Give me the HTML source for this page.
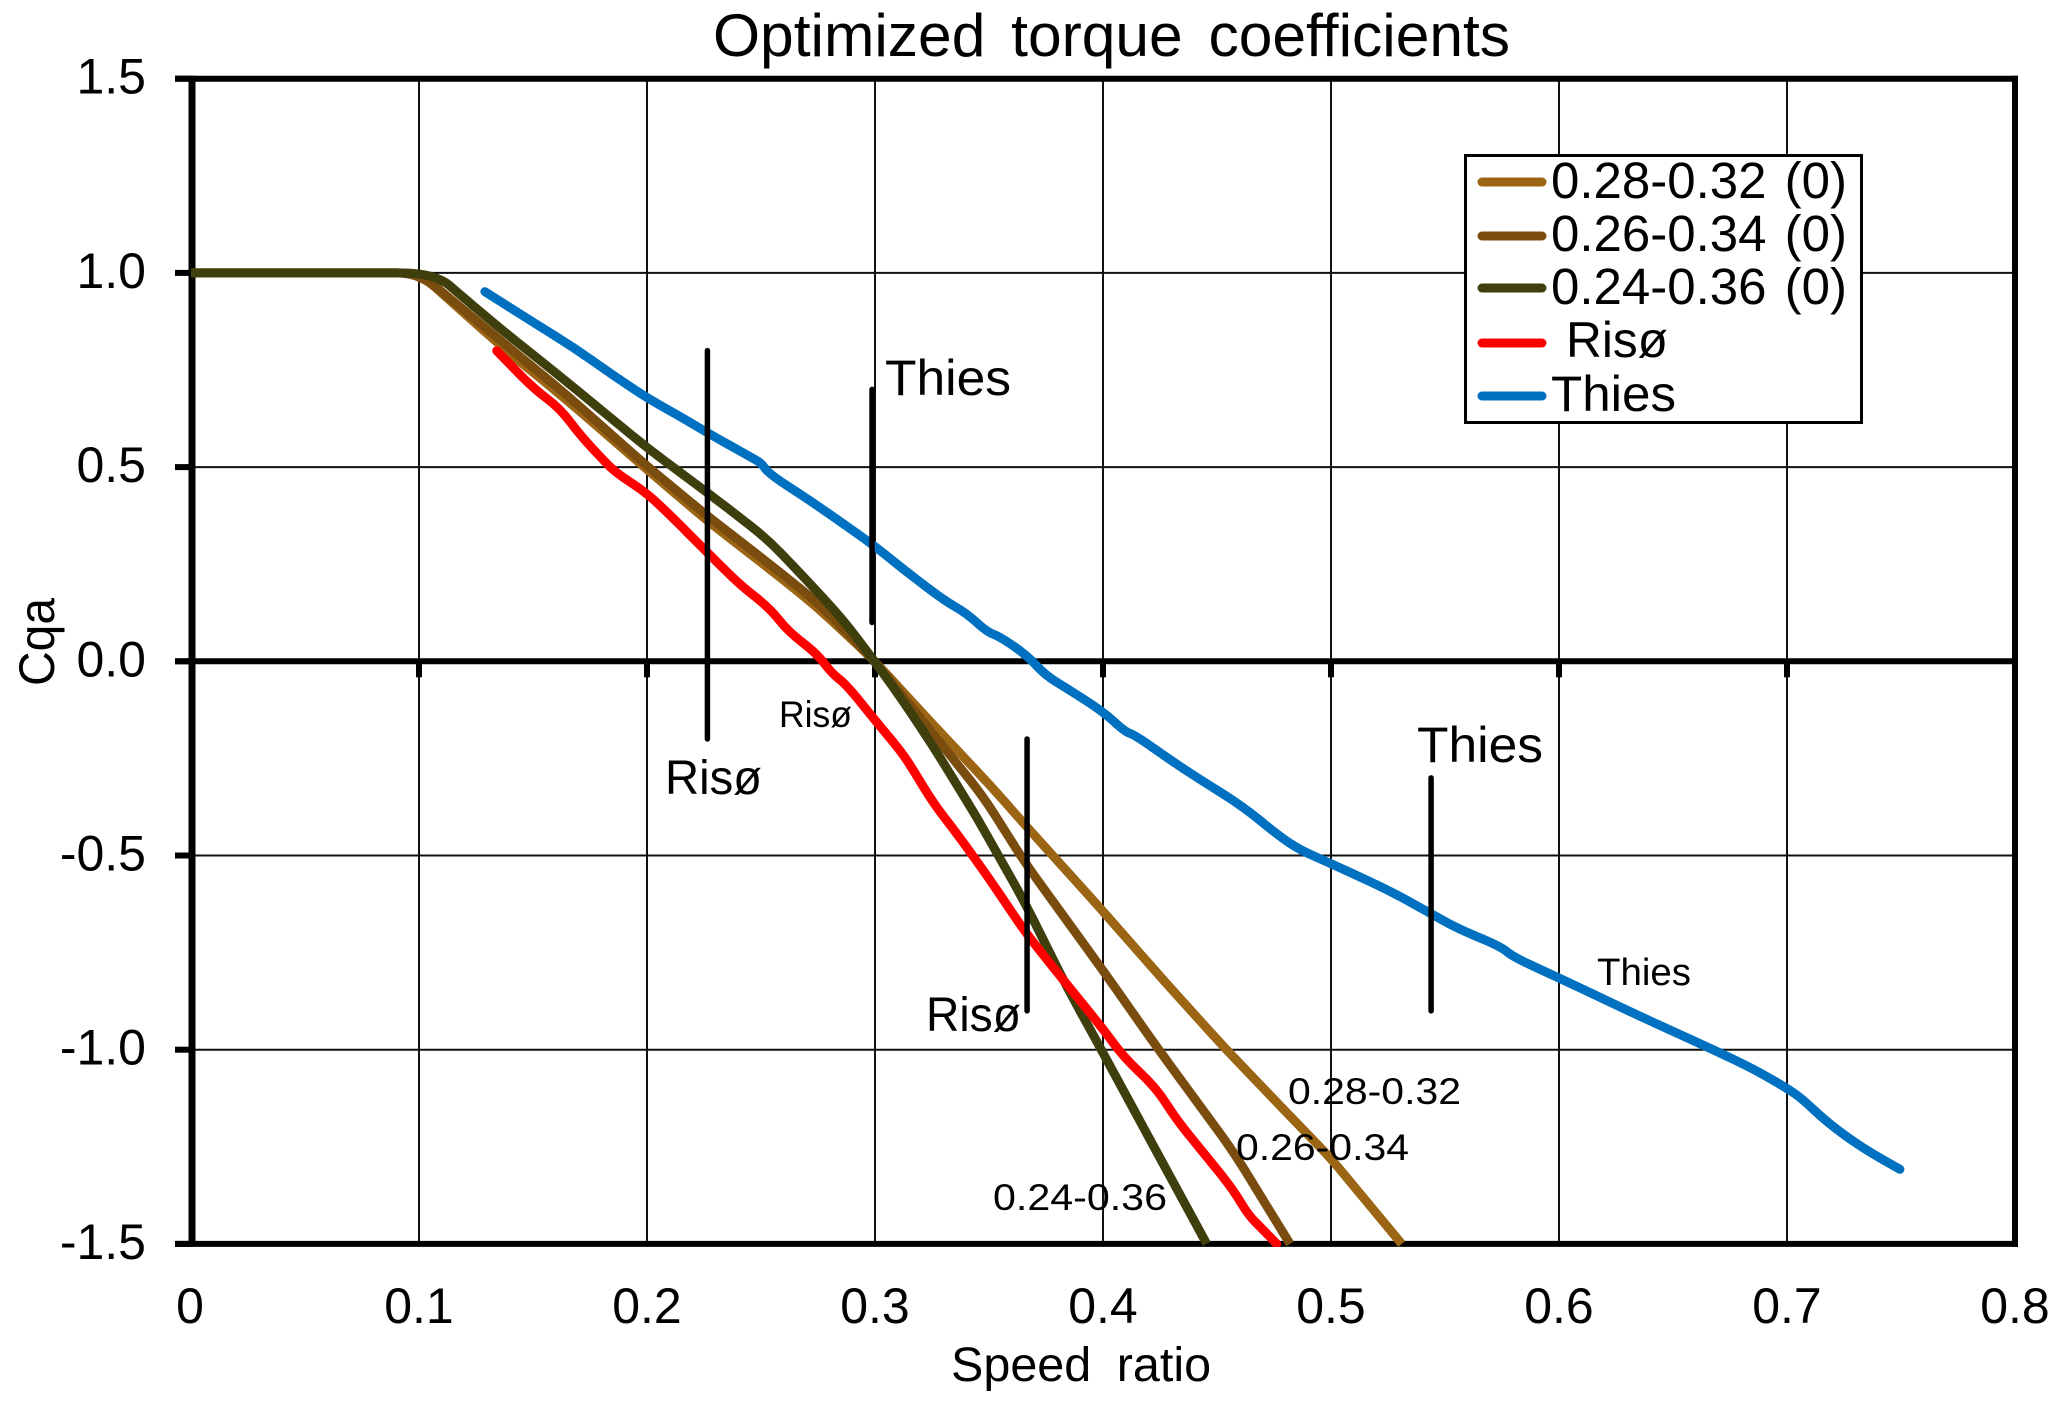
<!DOCTYPE html>
<html lang="en">
<head>
<meta charset="utf-8">
<title>Optimized torque coefficients</title>
<style>
html,body{margin:0;padding:0;background:#fff;}
svg{display:block;}
text{font-family:"Liberation Sans",sans-serif;fill:#000;white-space:pre;}
</style>
</head>
<body>
<svg id="chart" xmlns="http://www.w3.org/2000/svg" width="2067" height="1405" viewBox="0 0 2067 1405">
  <rect x="0" y="0" width="2067" height="1405" fill="#ffffff"/>
  <defs>
    <clipPath id="plot-clip"><rect x="188" y="70" width="1830" height="1177"/></clipPath>
  </defs>
  <g id="grid"></g>
  <g id="axes"></g>
  <g id="series" clip-path="url(#plot-clip)"></g>
  <g id="markers"></g>
  <g id="tick-labels"></g>

  <text x="713" y="56" font-size="60.5" word-spacing="9">Optimized torque coefficients</text>
  <text x="951" y="1381" font-size="48.5" word-spacing="12">Speed ratio</text>
  <text transform="translate(54,686) rotate(-90)" font-size="50" textLength="88" lengthAdjust="spacingAndGlyphs">Cqa</text>

  <text x="665" y="794" font-size="48" textLength="97" lengthAdjust="spacingAndGlyphs">Risø</text>
  <text x="779" y="727" font-size="37" textLength="73" lengthAdjust="spacingAndGlyphs">Risø</text>
  <text x="926" y="1031" font-size="48" textLength="95" lengthAdjust="spacingAndGlyphs">Risø</text>
  <text x="885" y="395" font-size="50" textLength="126" lengthAdjust="spacingAndGlyphs">Thies</text>
  <text x="1417" y="762" font-size="50" textLength="126" lengthAdjust="spacingAndGlyphs">Thies</text>
  <text x="1597" y="985" font-size="38" textLength="94" lengthAdjust="spacingAndGlyphs">Thies</text>
  <text x="1288" y="1104" font-size="37" textLength="173" lengthAdjust="spacingAndGlyphs">0.28-0.32</text>
  <text x="1236" y="1160" font-size="37" textLength="173" lengthAdjust="spacingAndGlyphs">0.26-0.34</text>
  <text x="993" y="1210" font-size="37" textLength="174" lengthAdjust="spacingAndGlyphs">0.24-0.36</text>

  <g>
    <rect x="1465.5" y="155.5" width="396" height="267" fill="#ffffff" stroke="#000000" stroke-width="3"/>
    <g>
      <line x1="1482" y1="182" x2="1542" y2="182" stroke="#9c6514" stroke-width="9" stroke-linecap="round"/>
      <text x="1551" y="198" font-size="51" word-spacing="4">0.28-0.32 (0)</text>
    </g>
    <g>
      <line x1="1482" y1="236" x2="1542" y2="236" stroke="#7a4d0f" stroke-width="9" stroke-linecap="round"/>
      <text x="1551" y="251" font-size="51" word-spacing="4">0.26-0.34 (0)</text>
    </g>
    <g>
      <line x1="1482" y1="288" x2="1542" y2="288" stroke="#3f3f0e" stroke-width="9" stroke-linecap="round"/>
      <text x="1551" y="304" font-size="51" word-spacing="4">0.24-0.36 (0)</text>
    </g>
    <g>
      <line x1="1482" y1="343" x2="1542" y2="343" stroke="#ff0000" stroke-width="9" stroke-linecap="round"/>
      <text x="1566" y="357" font-size="50" textLength="102" lengthAdjust="spacingAndGlyphs">Risø</text>
    </g>
    <g>
      <line x1="1482" y1="396" x2="1542" y2="396" stroke="#0070c0" stroke-width="9" stroke-linecap="round"/>
      <text x="1551" y="411" font-size="50" textLength="125" lengthAdjust="spacingAndGlyphs">Thies</text>
    </g>
  </g>
</svg>
<script>
const xTickLabels = ["0","0.1","0.2","0.3","0.4","0.5","0.6","0.7","0.8"];
const yTickLabels = ["1.5","1.0","0.5","0.0","-0.5","-1.0","-1.5"];

const band28X = [0,0.1,0.1355,0.1648,0.2003,0.2269,0.2525,0.2744,0.2992,0.3256,0.3504,0.3665,0.3987,0.4264,0.4542,0.4893,0.4999,0.531];
const band28Y = [1,1,0.8144,0.6728,0.4925,0.3594,0.2436,0.1406,0.0046,-0.164,-0.3185,-0.4258,-0.635,-0.8205,-1.0007,-1.2153,-1.2796,-1.5];

const band26X = [0,0.1,0.1355,0.1648,0.2003,0.2269,0.2525,0.2744,0.2992,0.33,0.3475,0.3665,0.3768,0.4001,0.4235,0.4572,0.482];
const band26Y = [1,1,0.8272,0.6857,0.501,0.3723,0.2564,0.1534,0.0046,-0.2199,-0.3486,-0.525,-0.608,-0.7970,-0.9923,-1.2626,-1.5];

const band24X = [0,0.1,0.1107,0.1165,0.1355,0.1648,0.2003,0.2269,0.2525,0.27,0.2861,0.2992,0.311,0.3256,0.3445,0.3651,0.3841,0.4001,0.4279,0.4455];
const band24Y = [1,1,0.9817,0.9516,0.8574,0.7199,0.5484,0.4325,0.3167,0.2093,0.1063,0.0046,-0.0911,-0.2199,-0.4001,-0.6146,-0.8377,-1.0093,-1.31,-1.5];

const risoX = [0.1341,0.1501,0.1618,0.1706,0.1808,0.1867,0.1991,0.2086,0.2247,0.2408,0.2539,0.262,0.2744,0.281,0.2876,0.2993,0.311,0.3168,0.3256,0.3358,0.349,0.3665,0.3826,0.4001,0.4089,0.4235,0.4323,0.4455,0.4572,0.4637,0.4703,0.4762];
const risoY = [0.7997,0.7029,0.6514,0.5827,0.5183,0.484,0.4367,0.3852,0.2909,0.1965,0.1365,0.0762,0.0206,-0.0309,-0.061,-0.1468,-0.2284,-0.2799,-0.3656,-0.4428,-0.5502,-0.7025,-0.8205,-0.9471,-1.018,-1.0994,-1.181,-1.2755,-1.3612,-1.4256,-1.4642,-1.5];

const thiesX = [0.1289,0.1501,0.1677,0.1882,0.2003,0.2159,0.2269,0.2452,0.2503,0.2532,0.2744,0.2993,0.311,0.33,0.3402,0.349,0.3548,0.3665,0.3746,0.3841,0.4001,0.4096,0.414,0.4338,0.4615,0.4776,0.4864,0.4997,0.5251,0.5436,0.5553,0.5746,0.5797,0.6003,0.6359,0.6695,0.6862,0.7,0.7064,0.7181,0.7333,0.7495];
const thiesY = [0.9516,0.8728,0.8084,0.7243,0.6771,0.6256,0.587,0.5268,0.5098,0.484,0.4024,0.2994,0.2436,0.158,0.1236,0.0762,0.0633,0.0162,-0.0353,-0.0695,-0.1298,-0.1813,-0.1898,-0.2714,-0.3744,-0.4516,-0.4858,-0.5201,-0.5888,-0.6488,-0.6875,-0.7348,-0.7605,-0.8162,-0.915,-1.0051,-1.0523,-1.0994,-1.1251,-1.1895,-1.2539,-1.3079];

const markerX = [0.2265,0.2987,0.3667,0.5439];
const markerTop = [0.8,0.7,-0.2,-0.3];
const markerBottom = [-0.2,0.1,-0.9,-0.9];

const NS = "http://www.w3.org/2000/svg";
function xScale(v){ return 191 + 2280 * v; }
function yScale(v){ return 661.3 - 388.4 * v; }

function addLine(parent, x1, y1, x2, y2, width, color, cap){
  const el = document.createElementNS(NS, "line");
  el.setAttribute("x1", x1);
  el.setAttribute("y1", y1);
  el.setAttribute("x2", x2);
  el.setAttribute("y2", y2);
  el.setAttribute("stroke", color);
  el.setAttribute("stroke-width", width);
  if (cap) el.setAttribute("stroke-linecap", cap);
  parent.appendChild(el);
  return el;
}

const gridG = document.getElementById("grid");
const axesG = document.getElementById("axes");
const seriesG = document.getElementById("series");
const markersG = document.getElementById("markers");
const labelsG = document.getElementById("tick-labels");

const xLeft = xScale(0), xRight = xScale(0.8);
const yTop = yScale(1.5), yBottom = yScale(-1.5);

xTickLabels.forEach(function(label){
  const v = parseFloat(label);
  if (v > 0 && v < 0.8) {
    const g = addLine(gridG, xScale(v), yTop, xScale(v), yBottom, 2, "#111111");
    
    
    const t = addLine(axesG, xScale(v), yScale(0), xScale(v), yScale(0) + 16, 6, "#000000");
    
    
  }
  const txt = document.createElementNS(NS, "text");
  
  
  txt.setAttribute("x", xScale(v) + (v === 0 ? -1 : 0));
  txt.setAttribute("y", 1323);
  txt.setAttribute("font-size", "50");
  txt.setAttribute("text-anchor", "middle");
  txt.textContent = label;
  labelsG.appendChild(txt);
});

yTickLabels.forEach(function(label){
  const v = parseFloat(label);
  if (Math.abs(v) !== 1.5 && v !== 0) {
    const g = addLine(gridG, xLeft, yScale(v), xRight, yScale(v), 2, "#111111");
    
    
  }
  const t = addLine(axesG, 175, yScale(v), xLeft, yScale(v), 6, "#000000");
  
  
  const txt = document.createElementNS(NS, "text");
  
  
  txt.setAttribute("x", 146);
  txt.setAttribute("y", yScale(v) + 15);
  txt.setAttribute("font-size", "50");
  txt.setAttribute("text-anchor", "end");
  txt.textContent = label;
  labelsG.appendChild(txt);
});

const leftAxis = addLine(axesG, xLeft + 1, yTop - 3, xLeft + 1, yBottom + 3, 7, "#000000");


const rightAxis = addLine(axesG, xRight, yTop - 3, xRight, yBottom + 3, 6, "#000000");


const topAxis = addLine(axesG, 175, yTop, xRight + 3, yTop, 6, "#000000");


const bottomAxis = addLine(axesG, 175, yBottom, xRight + 3, yBottom, 6, "#000000");


const zeroAxis = addLine(axesG, 175, yScale(0), xRight, yScale(0), 6, "#000000");



function pathFrom(xs, ys){
  const pts = xs.map(function(x, i){ return [xScale(x), yScale(ys[i])]; });
  const r = 22;
  function toward(a, b){
    const dx = b[0] - a[0], dy = b[1] - a[1];
    const len = Math.hypot(dx, dy) || 1;
    const d = Math.min(r, len / 2);
    return [a[0] + dx / len * d, a[1] + dy / len * d];
  }
  let d = "M" + pts[0][0].toFixed(1) + " " + pts[0][1].toFixed(1);
  for (let i = 1; i < pts.length - 1; i++) {
    const a = toward(pts[i], pts[i - 1]);
    const b = toward(pts[i], pts[i + 1]);
    d += " L" + a[0].toFixed(1) + " " + a[1].toFixed(1);
    d += " Q" + pts[i][0].toFixed(1) + " " + pts[i][1].toFixed(1) + " " + b[0].toFixed(1) + " " + b[1].toFixed(1);
  }
  const last = pts[pts.length - 1];
  d += " L" + last[0].toFixed(1) + " " + last[1].toFixed(1);
  return d;
}
function addSeries(xs, ys, color, cap){
  const p = document.createElementNS(NS, "path");
  p.setAttribute("d", pathFrom(xs, ys));
  p.setAttribute("fill", "none");
  p.setAttribute("stroke", color);
  p.setAttribute("stroke-width", "9");
  p.setAttribute("stroke-linejoin", "round");
  p.setAttribute("stroke-linecap", cap);
  seriesG.appendChild(p);
  return p;
}
const s28 = addSeries(band28X, band28Y, "#9c6514", "butt");


const s26 = addSeries(band26X, band26Y, "#7a4d0f", "butt");


const s24 = addSeries(band24X, band24Y, "#3f3f0e", "butt");


const sRiso = addSeries(risoX, risoY, "#ff0000", "round");


const sThies = addSeries(thiesX, thiesY, "#0070c0", "round");



markerX.forEach(function(x, i){
  const m = addLine(markersG, xScale(x), yScale(markerTop[i]), xScale(x), yScale(markerBottom[i]), 5.5, "#000000", "round");
  
  
});
</script>
</body>
</html>
